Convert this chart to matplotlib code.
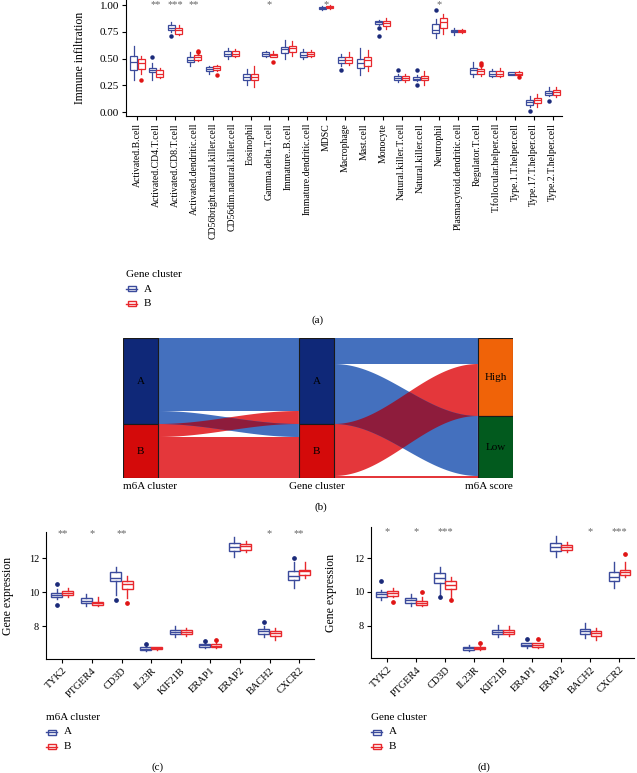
import numpy as np
import matplotlib
matplotlib.use("Agg")
import matplotlib.pyplot as plt
from matplotlib.patches import Polygon, Rectangle
from matplotlib.lines import Line2D

plt.rcParams['font.family'] = ['Liberation Serif', 'DejaVu Serif']

# ---------------- data: panel (a) ----------------
cells = ['Activated.B.cell', 'Activated.CD4.T.cell', 'Activated.CD8.T.cell', 'Activated.dendritic.cell',
         'CD56bright.natural.killer.cell', 'CD56dim.natural.killer.cell', 'Eosinophil', 'Gamma.delta.T.cell',
         'Immature..B.cell', 'Immature.dendritic.cell', 'MDSC', 'Macrophage', 'Mast.cell', 'Monocyte',
         'Natural.killer.T.cell', 'Natural.killer.cell', 'Neutrophil', 'Plasmacytoid.dendritic.cell',
         'Regulator.T.cell', 'T.follocular.helper.cell', 'Type.1.T.helper.cell', 'Type.17.T.helper.cell',
         'Type.2.T.helper.cell']
a_A_q1 = [0.39, 0.37, 0.77, 0.47, 0.38, 0.52, 0.30, 0.52, 0.55, 0.51, 0.96, 0.46, 0.41, 0.82, 0.30, 0.30, 0.74, 0.75, 0.36, 0.34, 0.35, 0.07, 0.16]
a_A_med = [0.47, 0.39, 0.79, 0.49, 0.40, 0.54, 0.33, 0.54, 0.59, 0.53, 0.97, 0.49, 0.46, 0.84, 0.32, 0.31, 0.77, 0.76, 0.39, 0.36, 0.36, 0.09, 0.18]
a_A_q3 = [0.52, 0.41, 0.81, 0.51, 0.42, 0.57, 0.36, 0.56, 0.61, 0.56, 0.98, 0.51, 0.50, 0.85, 0.34, 0.33, 0.82, 0.77, 0.41, 0.38, 0.37, 0.11, 0.20]
a_A_lo = [0.30, 0.30, 0.75, 0.43, 0.36, 0.50, 0.25, 0.51, 0.50, 0.50, 0.95, 0.43, 0.35, 0.81, 0.28, 0.29, 0.69, 0.72, 0.33, 0.33, 0.35, 0.05, 0.15]
a_A_hi = [0.62, 0.46, 0.84, 0.56, 0.43, 0.60, 0.40, 0.57, 0.67, 0.59, 0.99, 0.54, 0.60, 0.86, 0.36, 0.35, 0.87, 0.79, 0.47, 0.40, 0.37, 0.15, 0.23]
a_A_fl = [[], [0.51], [0.71], [], [], [], [], [], [], [], [], [0.39], [], [0.79, 0.71], [0.39], [0.39, 0.25],
          [0.95], [], [], [], [], [0.01], [0.10]]
a_B_q1 = [0.40, 0.33, 0.73, 0.49, 0.39, 0.52, 0.30, 0.51, 0.56, 0.52, 0.97, 0.46, 0.43, 0.80, 0.30, 0.30, 0.79, 0.75, 0.36, 0.34, 0.35, 0.08, 0.16]
a_B_med = [0.46, 0.36, 0.77, 0.51, 0.41, 0.54, 0.33, 0.53, 0.60, 0.54, 0.98, 0.49, 0.49, 0.83, 0.32, 0.32, 0.84, 0.76, 0.38, 0.36, 0.36, 0.11, 0.19]
a_B_q3 = [0.50, 0.39, 0.79, 0.53, 0.43, 0.57, 0.36, 0.54, 0.62, 0.56, 0.99, 0.51, 0.51, 0.85, 0.34, 0.34, 0.88, 0.77, 0.40, 0.38, 0.37, 0.13, 0.21]
a_B_lo = [0.36, 0.32, 0.72, 0.48, 0.38, 0.51, 0.23, 0.51, 0.52, 0.51, 0.96, 0.44, 0.38, 0.78, 0.28, 0.25, 0.73, 0.74, 0.34, 0.33, 0.34, 0.05, 0.14]
a_B_hi = [0.52, 0.41, 0.81, 0.55, 0.44, 0.59, 0.43, 0.57, 0.66, 0.58, 1.00, 0.56, 0.58, 0.88, 0.36, 0.38, 0.92, 0.78, 0.43, 0.41, 0.38, 0.17, 0.23]
a_B_fl = [[0.30], [], [], [0.57, 0.56], [0.35], [], [], [0.47], [], [], [], [], [], [], [], [], [], [],
          [0.46, 0.44], [], [0.33], [], []]
a_sig = ['', '**', '***', '**', '', '', '', '*', '', '', '*', '', '', '', '', '', '*', '', '', '', '', '', '']

# ---------------- data: panel (b) ----------------
m6a_levels = ['A', 'B']
gene_levels = ['A', 'B']
score_levels = ['High', 'Low']
flow_m6a_gene = {('A', 'A'): 73, ('A', 'B'): 13, ('B', 'A'): 13, ('B', 'B'): 41}
flow_gene_score = {('A', 'High'): 26, ('A', 'Low'): 60, ('B', 'High'): 52, ('B', 'Low'): 2}
axis_titles = ['m6A cluster', 'Gene cluster', 'm6A score']

# ---------------- data: panels (c) and (d) ----------------
genes = ['TYK2', 'PTGER4', 'CD3D', 'IL23R', 'KIF21B', 'ERAP1', 'ERAP2', 'BACH2', 'CXCR2']
c_A_q1 = [9.69, 9.35, 10.63, 6.56, 7.52, 6.79, 12.39, 7.52, 10.69]
c_A_med = [9.83, 9.50, 10.82, 6.65, 7.65, 6.88, 12.65, 7.71, 10.92]
c_A_q3 = [9.92, 9.63, 11.16, 6.75, 7.75, 6.94, 12.88, 7.85, 11.22]
c_A_lo = [9.58, 9.15, 9.85, 6.52, 7.33, 6.69, 12.06, 7.33, 10.24]
c_A_hi = [10.15, 9.88, 11.50, 6.85, 8.00, 7.04, 13.24, 8.00, 11.75]
c_A_fl = [[10.46, 9.25], [], [9.55], [6.94], [], [7.13], [], [8.23], [11.98]]
c_B_q1 = [9.81, 9.25, 10.20, 6.62, 7.52, 6.75, 12.49, 7.42, 11.02]
c_B_med = [9.96, 9.35, 10.49, 6.69, 7.65, 6.85, 12.69, 7.58, 11.22]
c_B_q3 = [10.06, 9.44, 10.67, 6.75, 7.75, 6.94, 12.82, 7.71, 11.31]
c_B_lo = [9.73, 9.15, 9.65, 6.56, 7.42, 6.69, 12.33, 7.17, 10.82]
c_B_hi = [10.21, 9.73, 10.92, 6.79, 7.90, 7.04, 12.98, 7.90, 11.75]
c_B_fl = [[], [], [9.35], [], [], [7.17], [], [], []]
c_sig = ['**', '*', '**', '', '', '', '', '*', '**']

d_A_q1 = [9.69, 9.35, 10.53, 6.58, 7.52, 6.81, 12.42, 7.54, 10.67]
d_A_med = [9.88, 9.50, 10.81, 6.67, 7.65, 6.88, 12.65, 7.71, 10.91]
d_A_q3 = [9.98, 9.63, 11.13, 6.77, 7.77, 6.96, 12.89, 7.81, 11.17]
d_A_lo = [9.50, 9.15, 9.84, 6.48, 7.33, 6.71, 12.10, 7.29, 10.22]
d_A_hi = [10.12, 9.88, 11.50, 6.87, 8.06, 7.00, 13.29, 8.15, 11.76]
d_A_fl = [[10.65], [], [9.68], [], [], [7.19], [], [], []]
d_B_q1 = [9.79, 9.25, 10.18, 6.62, 7.52, 6.77, 12.50, 7.42, 11.01]
d_B_med = [9.96, 9.37, 10.44, 6.67, 7.65, 6.87, 12.69, 7.58, 11.17]
d_B_q3 = [10.08, 9.46, 10.63, 6.75, 7.77, 6.96, 12.81, 7.71, 11.31]
d_B_lo = [9.69, 9.15, 9.58, 6.58, 7.42, 6.71, 12.36, 7.15, 10.87]
d_B_hi = [10.23, 9.69, 10.91, 6.81, 7.96, 7.00, 12.95, 7.87, 11.76]
d_B_fl = [[9.40], [9.98], [9.52], [6.96], [], [7.19], [], [], [12.26]]
d_sig = ['*', '*', '***', '', '', '', '', '*', '***']

# ---------------- style ----------------
COL_A = '#3B4B9C'
COL_B = '#E8282D'
FL_A = '#1B2A7A'
FL_B = '#E01515'
STAR = '#666666'
W, H = 637, 773

fig = plt.figure(figsize=(W / 100, H / 100), dpi=100)


def px_axes(l, t, r, b):
    return fig.add_axes([l / W, 1 - b / H, (r - l) / W, (b - t) / H])


def style_axes(ax, fs):
    for s in ['top', 'right']:
        ax.spines[s].set_visible(False)
    for s in ['left', 'bottom']:
        ax.spines[s].set_linewidth(0.8)
    ax.tick_params(axis='both', length=3, width=0.8, labelsize=fs, pad=2)


def draw_boxes(ax, q1, med, q3, lo, hi, fl, offset, color, flcolor, width, lw=1.0, ms=2.4):
    stats = []
    for i in range(len(med)):
        stats.append(dict(med=med[i], q1=q1[i], q3=q3[i], whislo=lo[i], whishi=hi[i], fliers=fl[i]))
    pos = np.arange(len(med)) + offset
    ax.bxp(stats, positions=pos, widths=width, showcaps=False, patch_artist=True,
           boxprops=dict(facecolor='white', edgecolor=color, linewidth=lw),
           medianprops=dict(color=color, linewidth=lw),
           whiskerprops=dict(color=color, linewidth=lw),
           flierprops=dict(marker='o', markerfacecolor=flcolor, markeredgecolor=flcolor, markersize=ms))


def legend_icon(x, y, color):
    # x, y in figure pixels (left, centre)
    w, h = 11, 5
    fig.add_artist(Rectangle(((x + 1.5) / W, 1 - (y + h / 2) / H), (w - 3) / W, h / H,
                             transform=fig.transFigure, facecolor='white', edgecolor=color, lw=1.0))
    fig.add_artist(Line2D([x / W, (x + w) / W], [1 - y / H, 1 - y / H], transform=fig.transFigure,
                          color=color, lw=1.0))


def legend(x, y, title, fs=8):
    fig.text(x / W, 1 - y / H, title, ha='left', va='center', fontsize=fs)
    for k, (lab, col) in enumerate([('A', COL_A), ('B', COL_B)]):
        yy = y + 15 + 14.5 * k
        legend_icon(x, yy, col)
        fig.text((x + 18) / W, 1 - yy / H, lab, ha='left', va='center', fontsize=fs)


# ---------------- panel (a) ----------------
box_a = (126, 0, 562, 116)
axa = px_axes(*box_a)
n = len(cells)
draw_boxes(axa, a_A_q1, a_A_med, a_A_q3, a_A_lo, a_A_hi, a_A_fl, -0.2, COL_A, FL_A, 0.37, lw=0.9, ms=2.2)
draw_boxes(axa, a_B_q1, a_B_med, a_B_q3, a_B_lo, a_B_hi, a_B_fl, 0.2, COL_B, FL_B, 0.37, lw=0.9, ms=2.2)
for i, s in enumerate(a_sig):
    if s:
        axa.text(i, 1.045, s, ha='center', va='top', fontsize=7.5, color=STAR)
axa.set_xlim(-0.6, n - 0.5)
axa.set_ylim(-0.037, 1.047)
axa.set_yticks([0, 0.25, 0.5, 0.75, 1.0])
axa.set_yticklabels(['0.00', '0.25', '0.50', '0.75', '1.00'])
axa.set_xticks(np.arange(n))
axa.set_xticklabels(cells, rotation=90, fontsize=7)
style_axes(axa, 8)
axa.tick_params(axis='x', labelsize=7)
axa.set_ylabel('Immune infiltration', fontsize=8.5)
axa.yaxis.set_label_coords((86 - box_a[0]) / (box_a[2] - box_a[0]), 0.5)
legend(126, 274, 'Gene cluster')
fig.text(318 / W, 1 - 320 / H, '(a)', ha='center', va='center', fontsize=8)

# ---------------- panel (b) sankey ----------------
axb = px_axes(123, 338, 513, 478)
axb.set_axis_off()
total = sum(flow_m6a_gene.values())
axb.set_xlim(0, 1)
axb.set_ylim(total, 0)
node_x = [0.0, 0.451, 0.910]
node_w = 0.09
levels = [m6a_levels, gene_levels, score_levels]
flows = [flow_m6a_gene, flow_gene_score]
node_cols = [{'A': '#0F2878', 'B': '#D40A0A'}, {'A': '#0F2878', 'B': '#D40A0A'},
             {'High': '#F06308', 'Low': '#025A1E'}]
flow_col = {'A': '#4470BE', 'B': '#E4373B'}
overlap_col = '#8E1C3C'


def node_sizes(stage):
    sizes = {}
    if stage == 0:
        for (s, t), v in flows[0].items():
            sizes[s] = sizes.get(s, 0) + v
    else:
        for (s, t), v in flows[stage - 1].items():
            sizes[t] = sizes.get(t, 0) + v
    return sizes


node_top = []
for st in range(3):
    sizes = node_sizes(st)
    y = 0
    tops = {}
    for lev in levels[st]:
        tops[lev] = (y, sizes[lev])
        y += sizes[lev]
    node_top.append(tops)

tt = np.linspace(0, 1, 120)
sm = (1 - np.cos(np.pi * tt)) / 2
for st in range(2):
    src_off = {k: v[0] for k, v in node_top[st].items()}
    tgt_off = {k: v[0] for k, v in node_top[st + 1].items()}
    x0 = node_x[st] + node_w
    x1 = node_x[st + 1]
    xs = x0 + (x1 - x0) * tt
    polys = []
    for s in levels[st]:
        for t in levels[st + 1]:
            v = flows[st][(s, t)]
            ys0 = src_off[s]
            src_off[s] += v
            polys.append((s, t, v, ys0))
    placed = []
    for t in levels[st + 1]:
        for s in levels[st]:
            for (ss, tt_, v, ys0) in polys:
                if ss == s and tt_ == t:
                    yt0 = tgt_off[t]
                    tgt_off[t] += v
                    placed.append((s, t, v, ys0, yt0))
    patches = []
    for (s, t, v, ys0, yt0) in placed:
        top = ys0 + (yt0 - ys0) * sm
        verts = np.vstack([np.column_stack([xs, top]), np.column_stack([xs[::-1], (top + v)[::-1]])])
        p = Polygon(verts, closed=True, facecolor=flow_col[s], edgecolor='none', zorder=1)
        axb.add_patch(p)
        patches.append((s, p, verts))
    for (s1, p1, v1) in patches:
        if s1 != 'B':
            continue
        for (s2, p2, v2) in patches:
            if s2 != 'A':
                continue
            q = Polygon(v1, closed=True, facecolor=overlap_col, edgecolor='none', zorder=2)
            axb.add_patch(q)
            q.set_clip_path(p2)

for st in range(3):
    for lev in levels[st]:
        y0, h = node_top[st][lev]
        axb.add_patch(Rectangle((node_x[st], y0), node_w, h, facecolor=node_cols[st][lev],
                                edgecolor='#1a1a1a', lw=0.8, zorder=3))
        axb.text(node_x[st] + node_w / 2, y0 + h / 2, lev, ha='center', va='center', fontsize=8, zorder=4)

fig.text(123 / W, 1 - 487 / H, axis_titles[0], ha='left', va='center', fontsize=8)
fig.text(317 / W, 1 - 487 / H, axis_titles[1], ha='center', va='center', fontsize=8)
fig.text(513 / W, 1 - 487 / H, axis_titles[2], ha='right', va='center', fontsize=8)
fig.text(321 / W, 1 - 507 / H, '(b)', ha='center', va='center', fontsize=8)


# ---------------- panels (c) and (d) ----------------
def gene_panel(box, ylim, A, B, sig, star_y, ylab_x):
    ax = px_axes(*box)
    draw_boxes(ax, *A, -0.19, COL_A, FL_A, 0.37)
    draw_boxes(ax, *B, 0.19, COL_B, FL_B, 0.37)
    for i, s in enumerate(sig):
        if s:
            ax.text(i, star_y, s, ha='center', va='center', fontsize=7.5, color=STAR)
    ax.set_xlim(-0.55, len(genes) - 0.5)
    ax.set_ylim(*ylim)
    ax.set_yticks([8, 10, 12])
    ax.set_xticks(np.arange(len(genes)))
    ax.set_xticklabels(genes, rotation=45, ha='right', rotation_mode='anchor', fontsize=7.5)
    style_axes(ax, 7.5)
    ax.tick_params(axis='x', labelsize=7.5)
    ax.set_ylabel('Gene expression', fontsize=8.5)
    ax.yaxis.set_label_coords((ylab_x - box[0]) / (box[2] - box[0]), 0.5)
    return ax


gene_panel((46, 532, 314, 659), (6.06, 13.53),
           (c_A_q1, c_A_med, c_A_q3, c_A_lo, c_A_hi, c_A_fl),
           (c_B_q1, c_B_med, c_B_q3, c_B_lo, c_B_hi, c_B_fl), c_sig, 13.43, 14)
legend(46, 717, 'm6A cluster')
fig.text(158 / W, 1 - 767 / H, '(c)', ha='center', va='center', fontsize=8)

gene_panel((371, 527, 634, 658), (6.09, 13.85),
           (d_A_q1, d_A_med, d_A_q3, d_A_lo, d_A_hi, d_A_fl),
           (d_B_q1, d_B_med, d_B_q3, d_B_lo, d_B_hi, d_B_fl), d_sig, 13.6, 337)
legend(371, 717, 'Gene cluster')
fig.text(484 / W, 1 - 767 / H, '(d)', ha='center', va='center', fontsize=8)

fig.savefig('out.png', dpi=100)
